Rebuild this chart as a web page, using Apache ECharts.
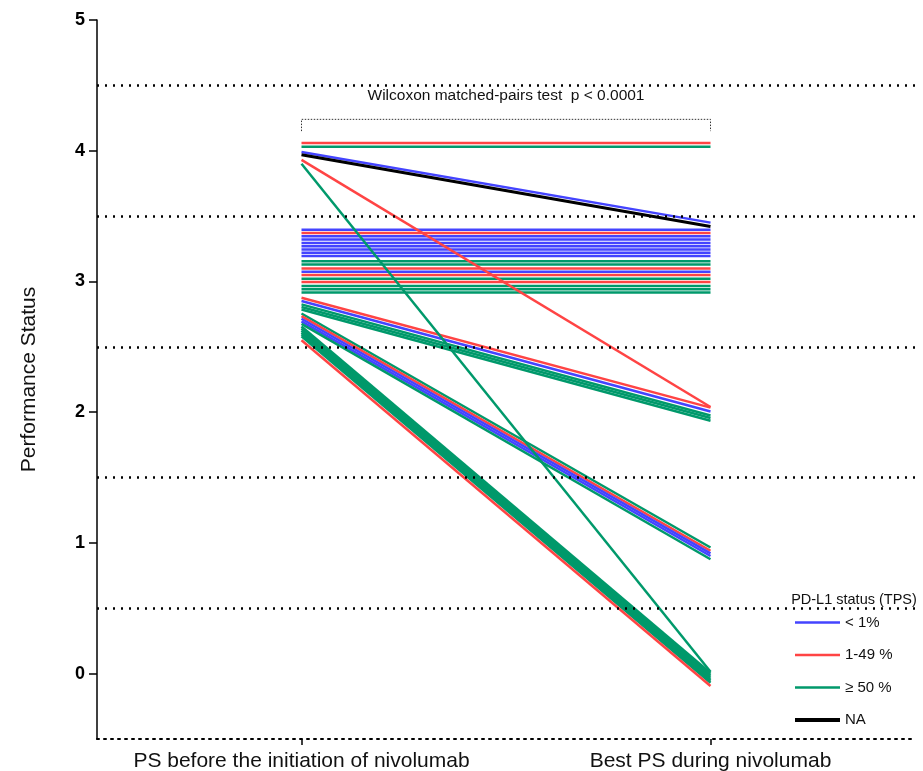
<!DOCTYPE html>
<html><head><meta charset="utf-8">
<script src="https://cdn.jsdelivr.net/npm/echarts@6/dist/echarts.min.js"></script>
<style>html,body{margin:0;padding:0;background:#fff}#c{width:923px;height:771px}</style>
</head><body><div id="c"></div>
<script>
const FONT = '"Liberation Sans", Arial, sans-serif';
const categories = ['PS before the initiation of nivolumab', 'Best PS during nivolumab'];
const groupNames = ['< 1%', '1-49 %', '\u2265 50 %', 'NA'];
const groupColors = ['#4444ff', '#ff4444', '#00996b', '#000000'];
// one entry per patient line: group index (0 <1%, 1 1-49%, 2 >=50%, 3 NA), plotted PS before, plotted best PS
const lineGroup = [
  1, 2,
  0, 1, 0, 0, 0, 0, 0, 0, 0, 2, 2, 1, 0, 1, 2, 1, 2, 2, 2,
  1, 0, 2, 2, 2,
  2, 1, 0, 0, 2,
  2, 2, 2, 2, 2, 2, 1,
  0, 3, 1, 2
];
const psBefore = [
  4.06, 4.03,
  3.395, 3.37, 3.345, 3.32, 3.295, 3.27, 3.245, 3.22, 3.195, 3.155, 3.13, 3.10, 3.075, 3.05, 3.02, 2.995, 2.965, 2.94, 2.915,
  2.875, 2.85, 2.825, 2.805, 2.785,
  2.755, 2.735, 2.715, 2.695, 2.675,
  2.655, 2.64, 2.625, 2.61, 2.595, 2.58, 2.55,
  3.99, 3.97, 3.93, 3.90
];
const psBest = [
  4.06, 4.03,
  3.395, 3.37, 3.345, 3.32, 3.295, 3.27, 3.245, 3.22, 3.195, 3.155, 3.13, 3.10, 3.075, 3.05, 3.02, 2.995, 2.965, 2.94, 2.915,
  2.035, 2.005, 1.975, 1.955, 1.935,
  0.965, 0.94, 0.92, 0.90, 0.875,
  0.005, -0.01, -0.025, -0.04, -0.055, -0.07, -0.095,
  3.45, 3.42, 2.04, 0.015
];
const yTicks = [0, 1, 2, 3, 4, 5];
const refLines = [4.5, 3.5, 2.5, 1.5, 0.5];
const bracketX = [0, 0, 1, 1];
const bracketY = [4.15, 4.24, 4.24, 4.15];
const testText = 'Wilcoxon matched-pairs test  p < 0.0001';
const legendTitle = 'PD-L1 status (TPS)';

const chart = echarts.init(document.getElementById('c'), null, {renderer: 'canvas'});

const series = lineGroup.map((g, i) => ({
  type: 'line',
  name: groupNames[g],
  symbol: 'none',
  silent: true,
  data: [[0, psBefore[i]], [1, psBest[i]]],
  lineStyle: {color: groupColors[g], width: g === 3 ? 3 : 2.5},
  itemStyle: {color: groupColors[g]},
  z: 3
}));

series.unshift({
  type: 'line',
  name: '_ref',
  data: [],
  silent: true,
  z: 1,
  markLine: {
    silent: true,
    symbol: 'none',
    label: {show: false},
    lineStyle: {color: '#000', type: [2, 6], width: 2.5},
    data: refLines.map(v => ({yAxis: v}))
  }
});

series.push({
  type: 'line',
  name: '_bracket',
  symbol: 'none',
  silent: true,
  z: 4,
  data: bracketX.map((x, i) => [x, bracketY[i]]),
  lineStyle: {color: '#333', width: 1, type: [1.5, 1.5]}
});

chart.setOption({
  animation: false,
  backgroundColor: '#fff',
  grid: {left: 97, right: 8, top: 20, bottom: 32, containLabel: false, outerBoundsMode: 'none'},
  xAxis: {
    type: 'category',
    data: categories,
    boundaryGap: true,
    axisLine: {show: true, onZero: false, lineStyle: {color: '#000', width: 2, type: [2, 5]}},
    axisTick: {show: true, alignWithLabel: true, length: 6, lineStyle: {color: '#000', width: 1.5}},
    axisLabel: {interval: 0, hideOverlap: false, fontSize: 21, color: '#111', margin: 12, fontFamily: FONT},
    splitLine: {show: false}
  },
  yAxis: {
    type: 'value',
    min: -0.5,
    max: 5,
    interval: 0.5,
    name: 'Performance Status',
    nameLocation: 'middle',
    nameGap: 57,
    nameTextStyle: {fontSize: 21, color: '#111', fontFamily: FONT},
    axisLine: {show: true, lineStyle: {color: '#000', width: 1.5}},
    axisTick: {show: true, length: 8, customValues: yTicks, lineStyle: {color: '#000', width: 1.5}},
    axisLabel: {customValues: yTicks, fontSize: 18, fontWeight: 'bold', color: '#000', margin: 12, fontFamily: FONT},
    splitLine: {show: false}
  },
  legend: {
    orient: 'vertical',
    left: 793,
    top: 615,
    padding: 0,
    itemWidth: 45,
    itemHeight: 14,
    itemGap: 17.5,
    selectedMode: false,
    data: groupNames.map((n, i) => ({name: n, lineStyle: {width: i === 3 ? 4 : 2.5}})),
    itemStyle: {color: 'rgba(0,0,0,0)', borderWidth: 0},
    lineStyle: {width: 2.5},
    textStyle: {fontSize: 15, color: '#111', fontFamily: FONT}
  },
  graphic: [
    {type: 'text', x: 506, y: 96, style: {text: testText, fill: '#111', font: '15.5px ' + FONT, textAlign: 'center', textVerticalAlign: 'middle'}},
    {type: 'text', x: 854, y: 600, style: {text: legendTitle, fill: '#111', font: '14.5px ' + FONT, textAlign: 'center', textVerticalAlign: 'middle'}}
  ],
  series: series
});
</script>
</body></html>
